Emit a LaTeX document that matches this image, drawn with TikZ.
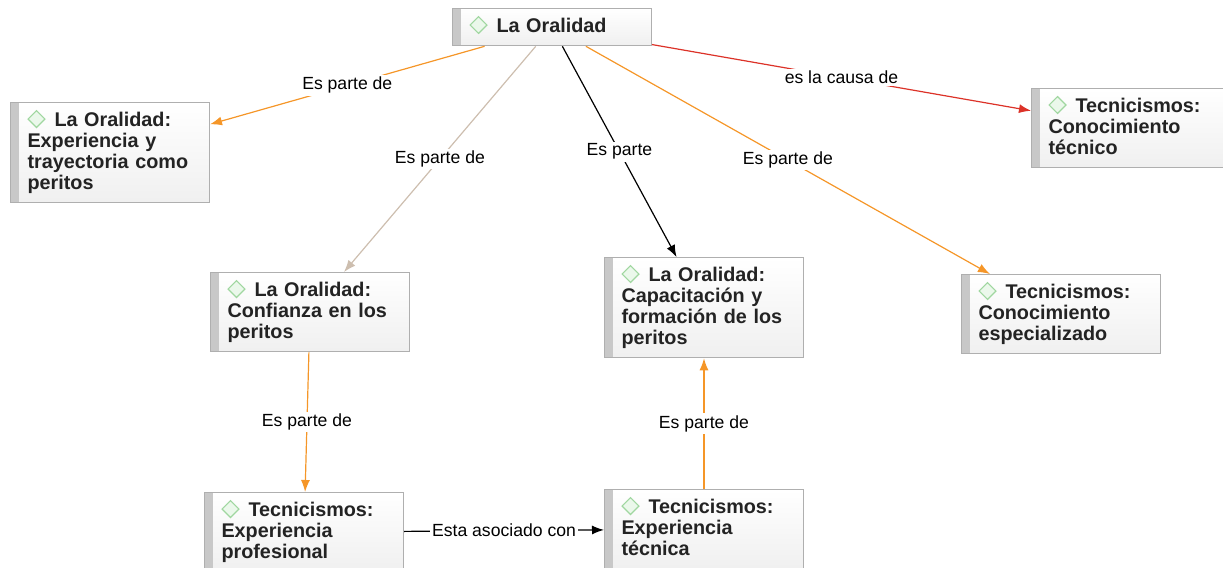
\documentclass[tikz,border=0pt]{standalone}
\usepackage{fontspec}
\setmainfont{Liberation Sans}
\usepackage{tikz}
\usetikzlibrary{arrows.meta}
\definecolor{edgeorange}{RGB}{245,150,40}
\definecolor{edgetan}{RGB}{205,190,175}
\definecolor{edgered}{RGB}{220,50,40}
\definecolor{boxline}{RGB}{175,175,175}
\definecolor{boxbar}{RGB}{200,200,200}
\definecolor{gemline}{RGB}{160,215,160}
\definecolor{gemfill}{RGB}{235,248,235}
\definecolor{conceptink}{RGB}{35,35,35}
\newcommand{\gemicon}{\tikz[baseline=-3.5pt]\draw[gemline,fill=gemfill,line width=0.6pt]
                      (0,-4.2pt) -- (4.2pt,0) -- (0,4.2pt) -- (-4.2pt,0) -- cycle;\hspace{4.5pt}}
\tikzset{concept/.style={draw=boxline,line width=0.5pt,top color=white,bottom color=gray!12,
                         anchor=north west,text width=82.5pt,inner xsep=8.5pt,inner ysep=3.75pt,
                         align=left,text=conceptink,
                         font=\fontsize{9.9}{10.5}\selectfont\bfseries,
                         execute at begin node=\strut\gemicon,execute at end node=\strut,
                         path picture={\fill[boxbar] (path picture bounding box.north west)
                           rectangle ([xshift=4pt]path picture bounding box.south west);}}}
\tikzset{link/.style={line width=0.6pt,-{Latex[length=6pt,width=4.5pt]}}}
\tikzset{linklabel/.style={fill=white,inner sep=1pt,text=black,
                           font=\fontsize{8.8}{10}\selectfont}}

\begin{document}
\begin{tikzpicture}[x=0.5pt,y=-0.5pt]
    \useasboundingbox (0,0) rectangle (1223,568);
    % Concepts
    \node[concept] (oral) at (452,8) {La Oralidad};
    \node[concept] (trayect) at (10,102) {La Oralidad:\\Experiencia y\\trayectoria como\\peritos};
    \node[concept] (tectec) at (1031,88) {Tecnicismos:\\Conocimiento\\técnico};
    \node[concept] (confianza) at (210,272) {La Oralidad:\\Confianza en los\\peritos};
    \node[concept] (capacit) at (604,257) {La Oralidad:\\Capacitación y\\formación de los\\peritos};
    \node[concept] (especial) at (961,274) {Tecnicismos:\\Conocimiento\\especializado};
    \node[concept] (profes) at (204,492) {Tecnicismos:\\Experiencia\\profesional};
    \node[concept] (tecnica) at (604,489) {Tecnicismos:\\Experiencia\\técnica};
    % Links
    \foreach \from/\to in {oral/trayect,oral/especial,confianza/profes,tecnica/capacit}{%
          \draw[link,edgeorange] (\from) -- node[linklabel] {Es parte de} (\to);
        }
    \draw[link,edgetan] (oral) -- node[linklabel] {Es parte de} (confianza);
    \draw[link,black] (oral) -- node[linklabel] {Es parte} (capacit);
    \draw[link,edgered] (oral) -- node[linklabel] {es la causa de} (tectec);
    \draw[link,black] (profes) -- node[linklabel] {Esta asociado con} (tecnica);
\end{tikzpicture}
\end{document}
